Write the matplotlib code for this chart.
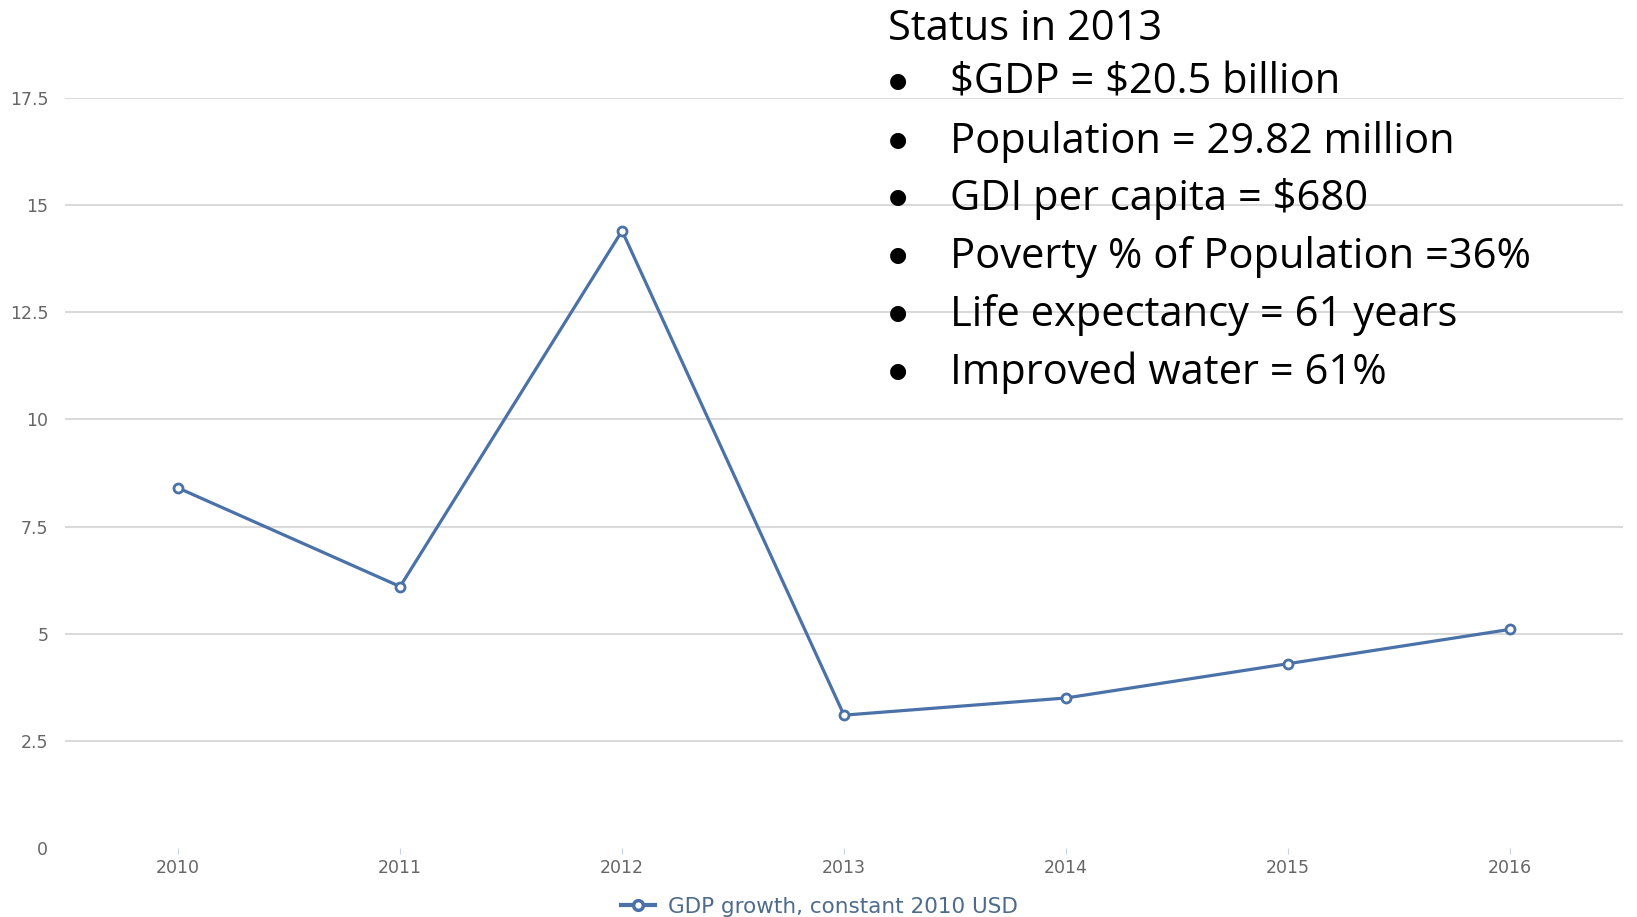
import matplotlib
matplotlib.use('Agg')
from matplotlib import pyplot as plt
import numpy as np

# data
years = [2010, 2011, 2012, 2013, 2014, 2015, 2016]
gdp_growth = [8.4, 6.1, 14.4, 3.1, 3.5, 4.3, 5.1]
y_ticks = [0, 2.5, 5, 7.5, 10, 12.5, 15, 17.5]
y_labels = ['0', '2.5', '5', '7.5', '10', '12.5', '15', '17.5']
series_name = 'GDP growth, constant 2010 USD'
status_title = 'Status in 2013'
status_items = ['$GDP = $20.5 billion',
                'Population = 29.82 million',
                'GDI per capita = $680',
                'Poverty % of Population =36%',
                'Life expectancy = 61 years',
                'Improved water = 61%']

W, H = 1637, 917
line_col = '#4a72a8'

fig = plt.figure(figsize=(W / 100, H / 100), dpi=100)
ax = fig.add_axes([65 / W, 1 - 848 / H, (1623 - 65) / W, (848 - 98) / H])

p1, = ax.plot(years, gdp_growth, color=line_col, lw=2.3, marker='o', ms=6.5,
              mfc='white', mec=line_col, mew=2.0, label=series_name, zorder=3)

ax.set_xlim(2009.49, 2016.51)
ax.set_ylim(0, 17.5)
ax.set_yticks(y_ticks)
ax.set_yticklabels(y_labels, family='DejaVu Sans')
ax.set_xticks(years)
ax.set_xticklabels([str(y) for y in years], family='DejaVu Sans')
for s in ax.spines.values():
    s.set_visible(False)
ax.grid(axis='y', color='#dadada', lw=1.5)
ax.get_ygridlines()[0].set_visible(False)
ax.tick_params(axis='y', length=0, pad=12, labelsize=12.5, labelcolor='#666666')
ax.tick_params(axis='x', length=4, width=0.8, color='#c5d3e8', pad=4,
               labelsize=12.5, labelcolor='#666666')

leg = fig.legend(handles=[p1], loc='center', bbox_to_anchor=(785 / 1568, 1 - 868 / 878),
                 frameon=False, labelcolor='#4d6b8c', handlelength=1.6,
                 handletextpad=0.6, prop={'family': 'DejaVu Sans', 'size': 15.5})
for h in leg.legend_handles:
    h.set_linewidth(3)
    h.set_markersize(7)
    h.set_markeredgewidth(2.5)

# text overlay (slide bullet list)
txt_font = dict(family='Open Sans', size=30, color='black', parse_math=False)
fig.text(888 / W, 1 - 29 / H, status_title, ha='left', va='center', **txt_font)
line_y = [83, 142, 199, 257, 315, 373]
for yy, item in zip(line_y, status_items):
    fig.text(898 / W, 1 - (yy - 2) / H, '\u25cf', ha='center', va='center',
             family='DejaVu Sans', size=15, color='black')
    fig.text(950 / W, 1 - yy / H, item, ha='left', va='center', **txt_font)

fig.savefig('out.png', dpi=100)
